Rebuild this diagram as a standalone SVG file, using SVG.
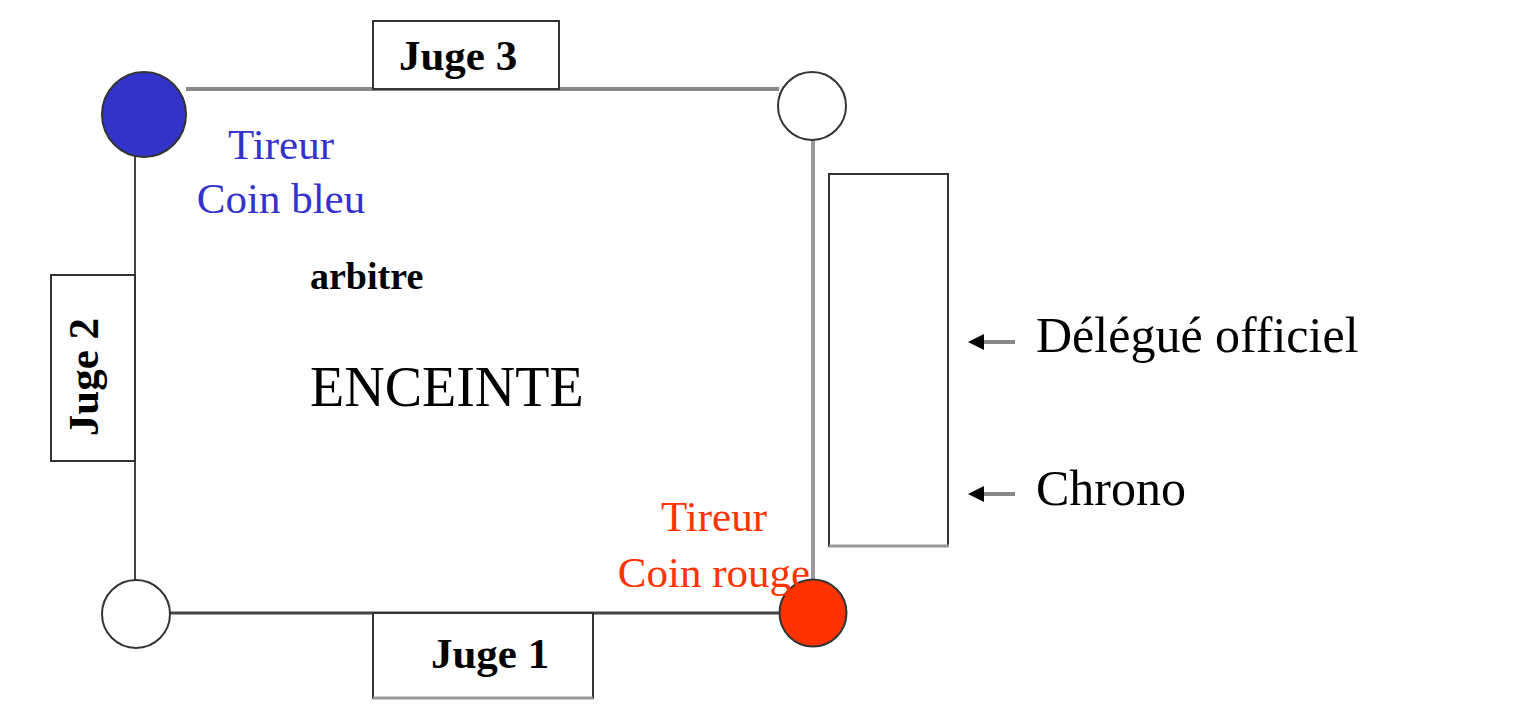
<svg xmlns="http://www.w3.org/2000/svg" width="1523" height="706" viewBox="0 0 1523 706">
<style>
  .t { font-family: "Liberation Serif", "Times New Roman", serif; }
  .b { font-weight: bold; fill: #000; }
  .box { fill: #fff; stroke: #333; stroke-width: 2; }
  .shadow { fill: none; stroke: #999; stroke-width: 3; }
  .corner { stroke: #333; stroke-width: 2; }
</style>
<defs>
  <marker id="arr" markerWidth="4" markerHeight="4" refX="3" refY="2" orient="auto" markerUnits="strokeWidth">
    <path d="M0,0 L4,2 L0,4 Z" fill="#000"/>
  </marker>
</defs>
<rect width="1523" height="706" fill="#fff"/>

<g id="connectors">
  <line x1="186" y1="89" x2="779" y2="89" stroke="#888" stroke-width="4"/>
  <line x1="135" y1="157" x2="135" y2="580" stroke="#444" stroke-width="2"/>
  <line x1="170" y1="613" x2="779" y2="613" stroke="#444" stroke-width="3"/>
  <line x1="813" y1="140" x2="813" y2="580" stroke="#999" stroke-width="4"/>
  <line x1="1015" y1="342" x2="972" y2="342" stroke="#888" stroke-width="4" marker-end="url(#arr)"/>
  <line x1="1015" y1="494" x2="972" y2="494" stroke="#888" stroke-width="4" marker-end="url(#arr)"/>
</g>

<g id="juge3">
  <rect class="box" x="373" y="21" width="186" height="68"/>
  <text class="t b" x="458" y="70" font-size="43" text-anchor="middle">Juge 3</text>
</g>

<g id="juge2">
  <rect class="box" x="51" y="275" width="84" height="186"/>
  <text class="t b" font-size="43" text-anchor="middle" transform="translate(98,377) rotate(-90)">Juge 2</text>
</g>

<g id="juge1">
  <rect class="box" x="373" y="613" width="220" height="85"/>
  <line class="shadow" x1="373" y1="698" x2="593" y2="698"/>
  <text class="t b" x="490" y="668" font-size="43" text-anchor="middle">Juge 1</text>
</g>

<g id="delegue-box">
  <rect class="box" x="829" y="174" width="119" height="372"/>
  <line class="shadow" x1="829" y1="546" x2="949" y2="546"/>
</g>

<g id="coin-bleu">
  <ellipse class="corner" cx="144" cy="114.5" rx="42" ry="42.5" fill="#3333cc"/>
</g>
<g id="coin-haut-droit">
  <circle class="corner" cx="812" cy="106" r="34" fill="#fff" stroke-width="1.5"/>
</g>
<g id="coin-bas-gauche">
  <circle class="corner" cx="136" cy="614" r="34" fill="#fff" stroke-width="1.5"/>
</g>
<g id="coin-rouge">
  <circle class="corner" cx="813" cy="613" r="33.5" fill="#ff3300"/>
</g>

<g id="tireur-bleu">
  <text class="t" x="281" y="159" font-size="43" text-anchor="middle" fill="#3333cc">Tireur</text>
  <text class="t" x="281" y="213" font-size="43" text-anchor="middle" fill="#3333cc">Coin bleu</text>
</g>

<g id="tireur-rouge">
  <text class="t" x="714" y="531" font-size="43" text-anchor="middle" fill="#ff3300">Tireur</text>
  <text class="t" x="714" y="587" font-size="43" text-anchor="middle" fill="#ff3300">Coin rouge</text>
</g>

<g id="arbitre">
  <text class="t b" x="310" y="289" font-size="38">arbitre</text>
</g>

<g id="enceinte">
  <text class="t" x="310" y="406" font-size="56" fill="#000">ENCEINTE</text>
</g>

<g id="delegue">
  <text class="t" x="1036" y="352" font-size="50" fill="#000">Délégué officiel</text>
</g>
<g id="chrono">
  <text class="t" x="1036" y="505" font-size="50" fill="#000">Chrono</text>
</g>
</svg>
